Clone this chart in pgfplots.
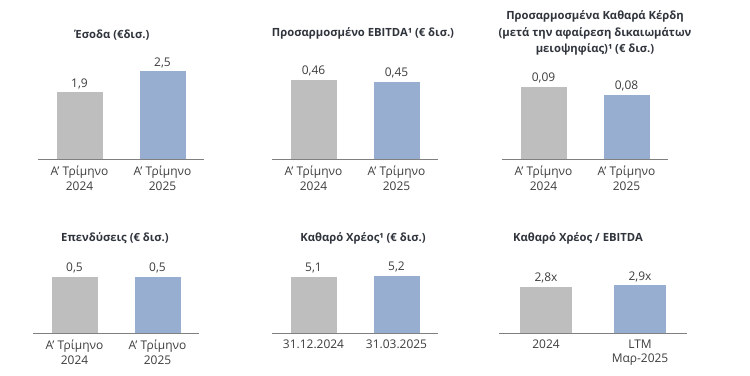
\documentclass[border=0pt]{standalone}
\usepackage{pgfplots}
\pgfplotsset{compat=1.18}
\usepackage{fontspec}
\setmainfont{Open Sans}
\definecolor{bargray}{HTML}{BEBEBE}
\definecolor{barblue}{HTML}{98AED0}
\definecolor{txt}{HTML}{3C3C3C}
\definecolor{ttl}{HTML}{30343C}
\definecolor{axl}{HTML}{808080}
\pgfplotsset{
  panel/.style={
    anchor=south west,
    xmin=-0.5, xmax=1.5, ymin=0,
    x=83bp,
    hide y axis,
    axis x line=bottom,
    axis line style={-, draw=axl, line width=0.9pt},
    xtick={0,1},
    major tick length=0pt,
    xticklabel style={align=center, font=\fontsize{12}{14.5}\selectfont, text=txt, yshift=-3.5pt},
    clip=false,
    ybar, bar width=46bp, bar shift=0pt,
    nodes near coords,
    every node near coord/.append style={font=\fontsize{12}{14}\selectfont, text=txt, anchor=south, yshift=0pt},
    /pgf/number format/use comma,
    /pgf/number format/fixed,
    /pgf/number format/fixed zerofill,
    /pgf/number format/assume math mode=true,
  },
  gbar/.style={fill=bargray, draw=none},
  bbar/.style={fill=barblue, draw=none},
}
\begin{document}
\begin{tikzpicture}[x=1bp,y=1bp]
\useasboundingbox (0,0) rectangle (750,375);
\tikzset{ttlnode/.style={font=\fontsize{11.3}{16.5}\selectfont\bfseries, text=ttl, align=center}}
% titles
\node[ttlnode] at (112,340) {Έσοδα (€δισ.)};
\node[ttlnode] at (363,342) {Προσαρμοσμένο EBITDA¹ (€ δισ.)};
\node[ttlnode] at (595,342) {Προσαρμοσμένα Καθαρά Κέρδη\\(μετά την αφαίρεση δικαιωμάτων\\μειοψηφίας)¹ (€ δισ.)};
\node[ttlnode] at (115,137) {Επενδύσεις (€ δισ.)};
\node[ttlnode] at (363,137) {Καθαρό Χρέος¹ (€ δισ.)};
\node[ttlnode] at (578,137) {Καθαρό Χρέος / EBITDA};
% panel 1
\begin{axis}[panel, at={(38bp,216bp)}, y=35bp, ymax=3,
  /pgf/number format/precision=1,
  xticklabels={{Α’ Τρίμηνο\\2024},{Α’ Τρίμηνο\\2025}}]
\addplot[gbar] coordinates {(0,1.9)};
\addplot[bbar] coordinates {(1,2.5)};
\end{axis}
% panel 2
\begin{axis}[panel, at={(272bp,216bp)}, y=172bp, ymax=0.6,
  /pgf/number format/precision=2,
  xticklabels={{Α’ Τρίμηνο\\2024},{Α’ Τρίμηνο\\2025}}]
\addplot[gbar] coordinates {(0,0.46)};
\addplot[bbar] coordinates {(1,0.45)};
\end{axis}
% panel 3
\begin{axis}[panel, at={(502bp,216bp)}, y=800bp, ymax=0.12,
  /pgf/number format/precision=2,
  xticklabels={{Α’ Τρίμηνο\\2024},{Α’ Τρίμηνο\\2025}}]
\addplot[gbar] coordinates {(0,0.09)};
\addplot[bbar] coordinates {(1,0.08)};
\end{axis}
% panel 4
\begin{axis}[panel, at={(33bp,42bp)}, y=113bp, ymax=0.7,
  /pgf/number format/precision=1,
  xticklabels={{Α’ Τρίμηνο\\2024},{Α’ Τρίμηνο\\2025}}]
\addplot[gbar] coordinates {(0,0.5)};
\addplot[bbar] coordinates {(1,0.5)};
\end{axis}
% panel 5
\begin{axis}[panel, at={(272bp,42bp)}, y=11bp, ymax=6.5,
  /pgf/number format/precision=1,
  xticklabels={{31.12.2024},{31.03.2025}}]
\addplot[gbar] coordinates {(0,5.1)};
\addplot[bbar] coordinates {(1,5.2)};
\end{axis}
% panel 6
\begin{axis}[panel, at={(499bp,42bp)}, x=94bp, y=16.5bp, ymax=3.8, bar width=52bp,
  /pgf/number format/precision=1,
  nodes near coords={\pgfmathprintnumber{\pgfplotspointmeta}x},
  xticklabels={{2024},{LTM\\Μαρ-2025}}]
\addplot[gbar] coordinates {(0,2.8)};
\addplot[bbar] coordinates {(1,2.9)};
\end{axis}
\end{tikzpicture}
\end{document}
